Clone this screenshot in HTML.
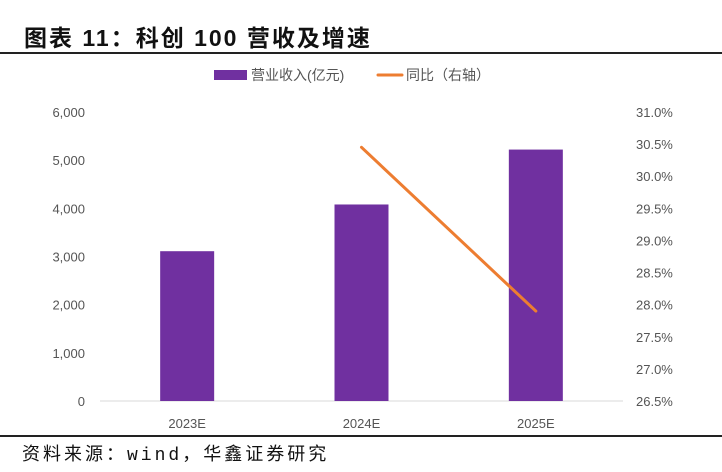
<!DOCTYPE html>
<html><head><meta charset="utf-8"><style>
body{margin:0;width:722px;height:472px;background:#fff;overflow:hidden;font-family:"Liberation Sans","Noto Sans CJK SC",sans-serif;}
#title{position:absolute;left:24px;top:19px;font-size:23px;font-weight:bold;color:#111;letter-spacing:2px;font-family:"Liberation Sans","Noto Sans CJK SC",sans-serif;}
#rule1{position:absolute;left:0;top:52px;width:722px;height:2px;background:#222;}
#rule2{position:absolute;left:0;top:435px;width:722px;height:2px;background:#222;}
#source{position:absolute;left:22px;top:440px;font-size:18px;color:#111;letter-spacing:3px;font-family:"Liberation Mono","Noto Sans CJK SC",monospace;}
svg{position:absolute;left:0;top:0;}
</style></head><body>
<div id="title">图表 11：科创 100 营收及增速</div>
<div id="rule1"></div>
<svg id="chart" width="722" height="472"></svg>
<div id="rule2"></div>
<div id="source">资料来源：wind，华鑫证券研究</div>
<script>
const categories=["2023E","2024E","2025E"];
const revenue=[3110,4080,5220];
const growth=[null,30.45,27.9];
const leftTicks=[0,1000,2000,3000,4000,5000,6000];
const rightTicks=[26.5,27.0,27.5,28.0,28.5,29.0,29.5,30.0,30.5,31.0];

const svg=document.getElementById('chart');
const NS='http://www.w3.org/2000/svg';
const x0=100,x1=623,yTop=112,yBot=401;
const band=(x1-x0)/categories.length;
const xC=i=>x0+band*(i+0.5);
const yL=v=>yBot-(v-0)/(6000-0)*(yBot-yTop);
const yR=v=>yBot-(v-26.5)/(31.0-26.5)*(yBot-yTop);
function mk(tag,attrs,text){const e=document.createElementNS(NS,tag);for(const k in attrs)e.setAttribute(k,attrs[k]);if(text!==undefined)e.textContent=text;svg.appendChild(e);return e;}

leftTicks.forEach(v=>{
  const t=mk('text',{x:85,y:yL(v)+5,'text-anchor':'end','font-size':13,fill:'#555'},v.toLocaleString('en-US'));
  
  
});
rightTicks.forEach(v=>{
  const t=mk('text',{x:636,y:yR(v)+5,'font-size':13,fill:'#555'},v.toFixed(1)+'%');
  
  
});
const base=mk('line',{x1:x0,x2:x1,y1:yBot,y2:yBot,stroke:'#d9d9d9','stroke-width':1});



revenue.forEach((v,i)=>{
  const r=mk('rect',{x:xC(i)-27,y:yL(v),width:54,height:yBot-yL(v),fill:'#7030a0'});
  
  
});
categories.forEach((c,i)=>{
  const t=mk('text',{x:xC(i),y:yBot+27,'text-anchor':'middle','font-size':13,fill:'#555'},c);
  
  
});
let pts=[];
growth.forEach((g,i)=>{if(g!==null)pts.push(xC(i)+','+yR(g));});
const pl=mk('polyline',{points:pts.join(' '),fill:'none',stroke:'#ed7d31','stroke-width':3,'stroke-linecap':'round'});



const lr=mk('rect',{x:214,y:70,width:33,height:10,fill:'#7030a0'});


const lt=mk('text',{x:251,y:80,'font-size':14,fill:'#555'},'营业收入(亿元)');


const ll=mk('line',{x1:378,x2:402,y1:75,y2:75,stroke:'#ed7d31','stroke-width':3,'stroke-linecap':'round'});


const lt2=mk('text',{x:406,y:80,'font-size':14,fill:'#555'},'同比（右轴）');


</script>
</body></html>
